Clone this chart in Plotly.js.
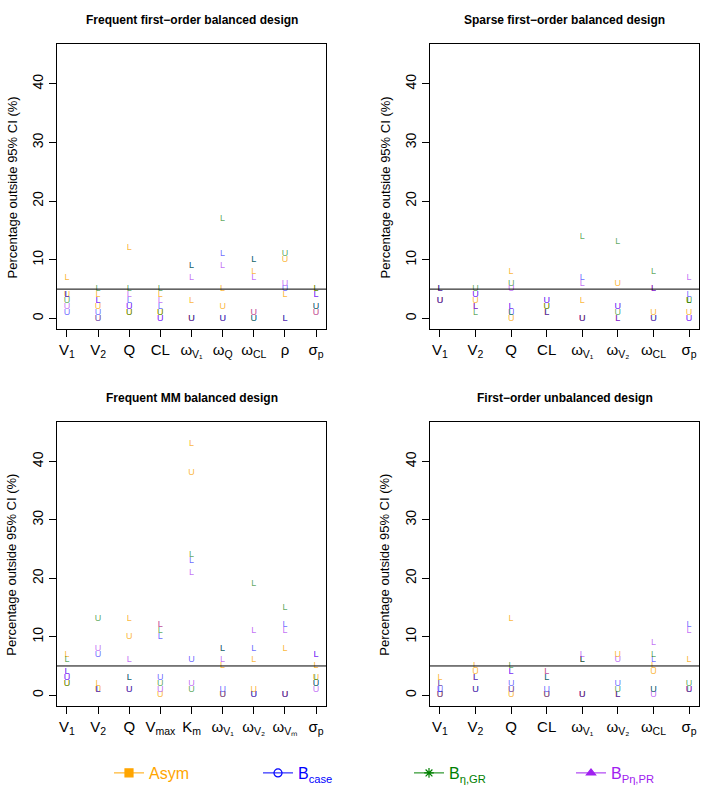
<!DOCTYPE html>
<html>
<head>
<meta charset="utf-8">
<script src="https://cdn.plot.ly/plotly-3.0.1.min.js"></script>
<style>html,body{margin:0;padding:0;background:#fff;}#chart{width:703px;height:809px;}</style>
</head>
<body>
<div id="chart"></div>
<script>
// ---------- DATA ----------
const methodNames = ['Asym', 'B<sub>case</sub>', 'B<sub>η,GR</sub>', 'B<sub>Pη,PR</sub>'];

const cats1 = ['V<sub>1</sub>','V<sub>2</sub>','Q','CL','ω<sub>V₁</sub>','ω<sub>Q</sub>','ω<sub>CL</sub>','ρ','σ<sub>p</sub>'];
const asymL1 = [7,4,12,4,3,5,8,4,5];
const asymU1 = [4,2,1,1,0,2,1,10,1];
const caseL1 = [4,3,3,2,9,11,10,0,4];
const caseU1 = [1,1,2,0,0,0,0,5,2];
const grL1   = [4,5,5,5,9,17,10,0,5];
const grU1   = [3,0,1,1,0,0,0,11,2];
const prL1   = [4,3,4,3,7,9,7,0,4];
const prU1   = [2,0,2,0,0,0,1,6,1];

const cats2 = ['V<sub>1</sub>','V<sub>2</sub>','Q','CL','ω<sub>V₁</sub>','ω<sub>V₂</sub>','ω<sub>CL</sub>','σ<sub>p</sub>'];
const asymL2 = [5,2,8,1,3,0,5,3];
const asymU2 = [3,3,0,2,0,6,1,1];
const caseL2 = [5,2,2,1,7,0,5,4];
const caseU2 = [3,4,1,3,0,2,0,0];
const grL2   = [5,1,1,1,14,13,8,3];
const grU2   = [3,5,6,2,0,1,0,3];
const prL2   = [5,2,2,1,6,0,5,7];
const prU2   = [3,4,5,3,0,2,0,0];

const cats3 = ['V<sub>1</sub>','V<sub>2</sub>','Q','V<sub>max</sub>','K<sub>m</sub>','ω<sub>V₁</sub>','ω<sub>V₂</sub>','ω<sub>Vₘ</sub>','σ<sub>p</sub>'];
const asymL3 = [7,2,13,12,43,5,6,8,5];
const asymU3 = [2,1,10,0,38,0,1,0,3];
const caseL3 = [4,1,3,10,23,8,8,12,7];
const caseU3 = [3,7,1,3,6,1,0,0,2];
const grL3   = [6,1,3,11,24,8,19,15,3];
const grU3   = [2,13,1,2,1,0,0,0,2];
const prL3   = [4,1,6,12,21,6,11,11,7];
const prU3   = [3,8,1,1,2,0,0,0,1];

const cats4 = ['V<sub>1</sub>','V<sub>2</sub>','Q','CL','ω<sub>V₁</sub>','ω<sub>V₂</sub>','ω<sub>CL</sub>','σ<sub>p</sub>'];
const asymL4 = [3,5,13,4,6,0,5,6];
const asymU4 = [0,4,0,0,0,7,4,1];
const caseL4 = [1,3,4,3,6,0,6,12];
const caseU4 = [1,1,2,1,0,2,1,1];
const grL4   = [2,3,5,3,6,0,7,1];
const grU4   = [0,1,1,0,0,1,1,2];
const prL4   = [2,3,4,4,7,0,9,11];
const prU4   = [0,1,1,0,0,6,0,1];

const titles = ['Frequent first−order balanced design','Sparse first−order balanced design',
                'Frequent MM balanced design','First−order unbalanced design'];
const yTitle = 'Percentage outside 95% CI (%)';
const yTicks = [0,10,20,30,40];
const refLine = 5;

// ---------- STYLE ----------
const W = 703, H = 809;
const FONT = 'Liberation Sans, Arial, sans-serif';
const textCols = ['rgba(250,170,20,0.85)','rgba(0,0,255,0.6)','rgba(0,120,0,0.65)','rgba(160,32,240,0.65)'];
const solidCols = ['#FFA500','#0000FF','#008000','#A020F0'];
const legendMarkerX = [128, 277, 428, 590];

const panels = [
  {cats: cats1, data: [[asymL1,asymU1],[caseL1,caseU1],[grL1,grU1],[prL1,prU1]], px:[57,326], py:[44,329]},
  {cats: cats2, data: [[asymL2,asymU2],[caseL2,caseU2],[grL2,grU2],[prL2,prU2]], px:[430,699], py:[44,329]},
  {cats: cats3, data: [[asymL3,asymU3],[caseL3,caseU3],[grL3,grU3],[prL3,prU3]], px:[57,326], py:[421.7,705.7]},
  {cats: cats4, data: [[asymL4,asymU4],[caseL4,caseU4],[grL4,grU4],[prL4,prU4]], px:[430,699], py:[421.7,705.7]},
];

const traces = [];
const layout = {
  width: W, height: H,
  margin: {l:0, r:0, t:0, b:0},
  paper_bgcolor: '#fff', plot_bgcolor: '#fff',
  font: {family: FONT, color: '#000'},
  showlegend: true,
  annotations: [], shapes: []
};

panels.forEach((p, i) => {
  const k = i + 1;
  const xa = 'x' + (k === 1 ? '' : k), ya = 'y' + (k === 1 ? '' : k);
  const n = p.cats.length;
  const idx = p.cats.map((_, j) => j + 1);
  p.data.forEach((pair, m) => {
    const [L, U] = pair;
    traces.push({
      type: 'scatter', mode: 'text', xaxis: xa, yaxis: ya,
      x: idx.concat(idx), y: L.concat(U),
      text: L.map(() => 'L').concat(U.map(() => 'U')),
      textposition: 'middle center',
      textfont: {family: FONT, size: 9, color: textCols[m]},
      hoverinfo: 'skip', showlegend: false, cliponaxis: false
    });
  });
  const axKey = 'xaxis' + (k === 1 ? '' : k), ayKey = 'yaxis' + (k === 1 ? '' : k);
  layout[axKey] = {
    domain: [p.px[0]/W, p.px[1]/W], anchor: ya,
    range: [1 - 0.04*(n-1), n + 0.04*(n-1)],
    tickvals: idx, ticktext: p.cats, ticks: 'outside', ticklen: 7, tickcolor: '#000',
    showline: true, mirror: true, linecolor: '#000', linewidth: 1,
    showgrid: false, zeroline: false, tickfont: {size: 15, family: FONT}, fixedrange: true
  };
  layout[ayKey] = {
    domain: [1 - p.py[1]/H, 1 - p.py[0]/H], anchor: xa,
    range: [-1.8, 46.8], tickvals: yTicks, ticktext: yTicks.map(String), tickangle: -90,
    ticks: 'outside', ticklen: 7, tickcolor: '#000',
    showline: true, mirror: true, linecolor: '#000', linewidth: 1,
    showgrid: false, zeroline: false, tickfont: {size: 14, family: FONT}, fixedrange: true
  };
  layout.shapes.push({type: 'line', xref: xa + ' domain', yref: ya, x0: 0, x1: 1, y0: refLine, y1: refLine,
                      line: {color: '#000', width: 1}});
  const cx = (p.px[0] + p.px[1]) / 2 / W;
  layout.annotations.push({text: '<b>' + titles[i] + '</b>', xref: 'paper', yref: 'paper',
    x: cx, y: 1 - (p.py[0] - 24)/H, xanchor: 'center', yanchor: 'middle', showarrow: false,
    font: {size: 12, family: FONT}});
  const ytx = (i % 2 === 0 ? 12 : 385) / W;
  layout.annotations.push({text: yTitle, xref: 'paper', yref: 'paper', textangle: -90,
    x: ytx, y: 1 - ((p.py[0] + p.py[1]) / 2 + 1)/H, xanchor: 'center', yanchor: 'middle', showarrow: false,
    font: {size: 13, family: FONT}});
});

// legend entries, one legend box per method so each sits where the reference has it
const symbols = ['square','circle-open','asterisk-open','triangle-up'];
methodNames.forEach((nm, m) => {
  const lname = m === 0 ? 'legend' : 'legend' + (m + 1);
  traces.push({type: 'scatter', mode: 'lines+markers', x: [null], y: [null],
    legend: lname,
    name: '<span style="color:' + solidCols[m] + '">' + nm + '</span>',
    line: {color: solidCols[m], width: 1},
    marker: {symbol: symbols[m], size: 8, color: solidCols[m], line: {color: solidCols[m], width: 1.2}},
    hoverinfo: 'skip', showlegend: true});
  layout[lname] = {x: (legendMarkerX[m] - 19) / W, xanchor: 'left', y: 1 - 773/H, yanchor: 'middle',
    orientation: 'h', font: {size: 16, family: FONT}, bgcolor: 'rgba(0,0,0,0)', borderwidth: 0,
    itemwidth: 30};
});

Plotly.newPlot('chart', traces, layout, {staticPlot: true, displayModeBar: false});
</script>
</body>
</html>
